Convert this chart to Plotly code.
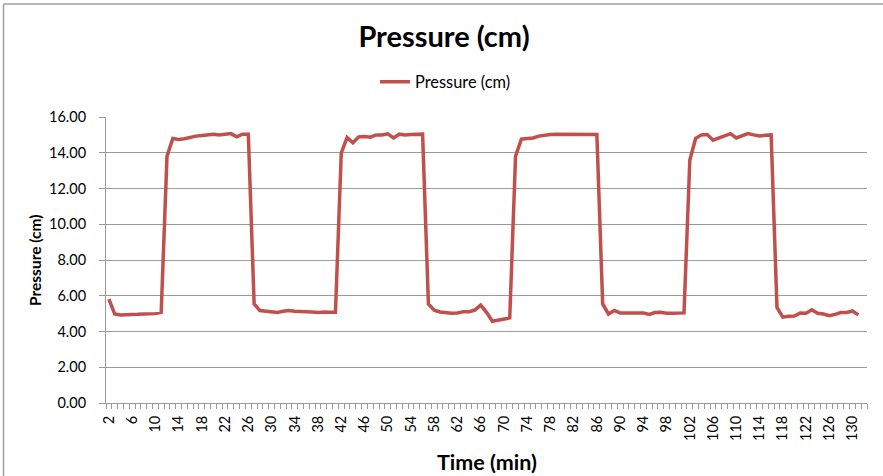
import plotly.graph_objects as go

# Time (min) categories
time_min = list(range(2, 132))

# Pressure (cm) readings
pressure_cm = [
    5.81, 4.98, 4.93, 4.93, 4.94, 4.96, 4.98, 4.98, 5.00, 5.07,          # 2-11
    13.81, 14.80, 14.74, 14.78, 14.87, 14.93, 14.96, 14.98, 15.04, 15.00, # 12-21
    15.04, 15.07, 14.89, 15.04, 15.04,                                    # 22-26
    5.54, 5.17, 5.13, 5.11, 5.06, 5.13, 5.17, 5.13, 5.13, 5.11,          # 27-36
    5.09, 5.06, 5.09, 5.07, 5.07,                                         # 37-41
    14.00, 14.85, 14.56, 14.89, 14.91, 14.87, 15.00, 15.00, 15.06, 14.83, # 42-51
    15.04, 15.00, 15.02, 15.02, 15.04,                                    # 52-56
    5.54, 5.19, 5.09, 5.04, 5.02, 5.04, 5.11, 5.11, 5.20, 5.48,          # 57-66
    5.07, 4.57, 4.63, 4.69, 4.76,                                         # 67-71
    13.81, 14.76, 14.80, 14.83, 14.93, 15.00, 15.02, 15.04, 15.04, 15.02, # 72-81
    15.04, 15.04, 15.02, 15.02, 15.02,                                    # 82-86
    5.54, 4.98, 5.18, 5.04, 5.04, 5.05, 5.05, 5.04, 4.96, 5.06,          # 87-96
    5.07, 5.02, 5.02, 5.05, 5.04,                                         # 97-101
    13.59, 14.80, 15.00, 15.02, 14.70, 14.83, 14.96, 15.07, 14.83, 14.93, # 102-111
    15.07, 15.00, 14.94, 14.98, 15.00,                                    # 112-116
    5.35, 4.80, 4.85, 4.87, 5.04, 5.02, 5.22, 5.02, 4.98, 4.89,          # 117-126
    4.96, 5.06, 5.06, 5.15, 4.93,                                         # 127-131
]

x_tick_values = list(range(2, 131, 4))
y_tick_values = [0, 2, 4, 6, 8, 10, 12, 14, 16]

chart_title = "Pressure (cm)"
series_name = "Pressure (cm)"
x_title = "Time (min)"
y_title = "Pressure (cm)"

FONT = "Lato"
GRID = "#9a9a9a"
W, H = 883, 476
L, R, T, B = 106, 16, 117, 73
PW, PH = W - L - R, H - T - B


def px_x(p):
    return (p - L) / PW


def px_y(p):
    return (H - B - p) / PH


fig = go.Figure()
fig.add_trace(go.Scatter(
    x=time_min, y=pressure_cm, mode="lines", name=series_name,
    line=dict(color="#C0504D", width=3.5),
))

fig.update_layout(
    width=W, height=H,
    margin=dict(l=L, r=R, t=T, b=B),
    paper_bgcolor="white", plot_bgcolor="white",
    font=dict(family=FONT, color="#000000"),
    title=dict(text="<b>" + chart_title + "</b>", xref="container", x=444 / W,
               xanchor="center", yref="container", y=1 - 37 / H, yanchor="middle",
               font=dict(size=29, family=FONT, color="#000000")),
    showlegend=True,
    legend=dict(orientation="h", x=px_x(375), xanchor="left", y=px_y(82),
                yanchor="middle", font=dict(size=16.4, family=FONT),
                bgcolor="rgba(0,0,0,0)"),
    xaxis=dict(
        range=[1.5, 132.5], tickmode="array", tickvals=x_tick_values,
        ticktext=[str(v) for v in x_tick_values], tickangle=-90,
        ticks="", showgrid=False, zeroline=False,
        showline=True, linecolor=GRID, linewidth=1,
        tickfont=dict(size=14.5, family=FONT), ticklabelstandoff=6,
        minor=dict(ticks="outside", tickmode="linear", tick0=1.5, dtick=1,
                   ticklen=5, tickcolor=GRID, tickwidth=1, showgrid=False),
    ),
    yaxis=dict(
        range=[0, 16], tickmode="array", tickvals=y_tick_values,
        ticktext=["%.2f" % v for v in y_tick_values],
        ticks="outside", ticklen=6, tickcolor=GRID, tickwidth=1,
        showgrid=True, gridcolor=GRID, gridwidth=1, zeroline=False,
        showline=True, linecolor=GRID, linewidth=1,
        tickfont=dict(size=14.5, family=FONT), ticklabelstandoff=10,
    ),
    annotations=[
        dict(text="<b>" + x_title + "</b>", xref="paper", yref="paper",
             x=0.5, y=px_y(462), xanchor="center", yanchor="middle",
             showarrow=False, font=dict(size=21.5, family=FONT)),
        dict(text="<b>" + y_title + "</b>", xref="paper", yref="paper",
             x=px_x(35), y=0.5, xanchor="center", yanchor="middle",
             textangle=-90, showarrow=False, font=dict(size=15.5, family=FONT)),
    ],
    shapes=[
        dict(type="line", xref="paper", yref="paper", x0=px_x(3.5), x1=px_x(W + 5),
             y0=px_y(4), y1=px_y(4), line=dict(color="#a0a0a0", width=1.5)),
        dict(type="line", xref="paper", yref="paper", x0=px_x(3.5), x1=px_x(3.5),
             y0=px_y(4), y1=px_y(H + 5), line=dict(color="#a0a0a0", width=1.5)),
    ],
)

fig.write_html(
    "out.html",
    config={"displayModeBar": False},
    post_script="document.body.style.margin='0';document.body.style.overflow='hidden';",
)
